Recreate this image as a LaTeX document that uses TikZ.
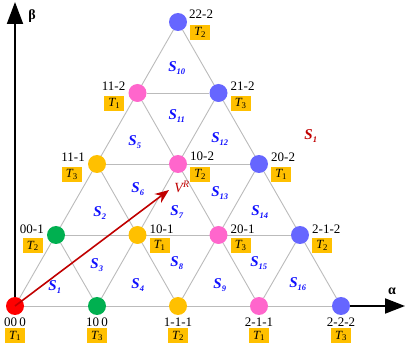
\documentclass[tikz,border=0pt]{standalone}
\usepackage{fontspec}
\setmainfont{Liberation Serif}
\usetikzlibrary{arrows.meta,backgrounds,calc}
\definecolor{cred}{HTML}{FF0000}
\definecolor{cgreen}{HTML}{00B050}
\definecolor{corange}{HTML}{FFC000}
\definecolor{cpink}{HTML}{FF66CC}
\definecolor{cblue}{HTML}{6666FF}
\definecolor{tbg}{HTML}{FFC000}
\definecolor{gridc}{HTML}{BBBBBB}
\definecolor{sblue}{HTML}{1010FF}
\definecolor{vred}{HTML}{C00000}
\tikzset{
  vtx/.style={circle, minimum size=18pt, inner sep=0pt, draw=none},
  lab/.style={font=\fontsize{13}{13}\selectfont, inner sep=0pt},
  tbox/.style={fill=tbg, minimum width=20pt, minimum height=15pt, inner sep=0pt, font=\fontsize{12.5}{12.5}\selectfont},
  gridline/.style={draw=gridc, line width=0.9pt},
  slab/.style={text=sblue, font=\fontsize{15}{15}\selectfont\bfseries\itshape, inner sep=0pt},
  axisline/.style={draw=black, line width=2pt}
}
\newcommand{\Tl}[1]{{\itshape T}\textsubscript{#1}}
\newcommand{\Sl}[1]{S\textsubscript{\fontsize{8.5}{8.5}\selectfont #1}}
\begin{document}
\begin{tikzpicture}[x=1pt,y=-1pt]
\useasboundingbox (0,0) rectangle (405,350);
% vertices
\node[vtx,fill=cred]    (a0) at (15,306) {};
\node[vtx,fill=cgreen]  (a1) at (97,306) {};
\node[vtx,fill=corange] (a2) at (178,306) {};
\node[vtx,fill=cpink]   (a3) at (259,306) {};
\node[vtx,fill=cblue]   (a4) at (341,306) {};
\node[vtx,fill=cgreen]  (b0) at (56,235) {};
\node[vtx,fill=corange] (b1) at (137.5,235) {};
\node[vtx,fill=cpink]   (b2) at (218.5,235) {};
\node[vtx,fill=cblue]   (b3) at (300,235) {};
\node[vtx,fill=corange] (c0) at (97,164) {};
\node[vtx,fill=cpink]   (c1) at (178,164) {};
\node[vtx,fill=cblue]   (c2) at (259,164) {};
\node[vtx,fill=cpink]   (d0) at (137.5,93) {};
\node[vtx,fill=cblue]   (d1) at (218.5,93) {};
\node[vtx,fill=cblue]   (e0) at (178,22) {};
% lattice
\begin{scope}[on background layer]
\draw[gridline] (a0) -- (a4);
\draw[gridline] (b0) -- (b3);
\draw[gridline] (c0) -- (c2);
\draw[gridline] (d0) -- (d1);
\draw[gridline] (a0) -- (e0);
\draw[gridline] (a1) -- (d1);
\draw[gridline] (a2) -- (c2);
\draw[gridline] (a3) -- (b3);
\draw[gridline] (a4) -- (e0);
\draw[gridline] (a3) -- (d0);
\draw[gridline] (a2) -- (c0);
\draw[gridline] (a1) -- (b0);
\end{scope}
% axes
\coordinate (betatip) at (15,2);
\coordinate (alphatip) at (405,306);
\draw[axisline,-{Triangle[width=16pt,length=22pt]}] (a0) -- (betatip);
\draw[axisline,-{Triangle[width=15pt,length=20pt]}] (a4) -- (alphatip);
\node[lab,font=\fontsize{14}{14}\selectfont\bfseries] (beta) at (32,16) {β};
\node[lab,font=\fontsize{14}{14}\selectfont\bfseries] (alpha) at (392,291) {α};
% reference vector
\coordinate (vtip) at (169,190);
\draw[vred, line width=1.6pt, -{Stealth[length=14pt,width=11pt]}] (a0.center) -- (vtip);
\node[text=vred, font=\fontsize{14}{14}\selectfont\itshape, inner sep=0pt] (vr) at (182,187) {V\textsuperscript{R}};
% bottom labels
\node[lab] (ta0) at ($(a0)+(0,16)$) {00\,0};
\node[tbox] (xa0) at ($(a0)+(0,30)$) {\Tl{1}};
\node[lab] (ta1) at ($(a1)+(0,16)$) {10\,0};
\node[tbox] (xa1) at ($(a1)+(0,30)$) {\Tl{3}};
\node[lab] (ta2) at ($(a2)+(0,16)$) {1-1-1};
\node[tbox] (xa2) at ($(a2)+(0,30)$) {\Tl{2}};
\node[lab] (ta3) at ($(a3)+(0,16)$) {2-1-1};
\node[tbox] (xa3) at ($(a3)+(0,30)$) {\Tl{1}};
\node[lab] (ta4) at ($(a4)+(0,16)$) {2-2-2};
\node[tbox] (xa4) at ($(a4)+(0,30)$) {\Tl{3}};
% right labels
\node[lab,anchor=west] (te0) at ($(e0)+(11,-8)$) {22-2};
\node[tbox,anchor=west] (xe0) at ($(e0)+(12,10.5)$) {\Tl{2}};
\node[lab,anchor=west] (td1) at ($(d1)+(12,-7)$) {21-2};
\node[tbox,anchor=west] (xd1) at ($(d1)+(12,10.5)$) {\Tl{3}};
\node[lab,anchor=west] (tc1) at ($(c1)+(12,-8)$) {10-2};
\node[tbox,anchor=west] (xc1) at ($(c1)+(12,10.5)$) {\Tl{2}};
\node[lab,anchor=west] (tc2) at ($(c2)+(12,-7)$) {20-2};
\node[tbox,anchor=west] (xc2) at ($(c2)+(12,10.5)$) {\Tl{1}};
\node[lab,anchor=west] (tb1) at ($(b1)+(12,-6)$) {10-1};
\node[tbox,anchor=west] (xb1) at ($(b1)+(12,10.5)$) {\Tl{1}};
\node[lab,anchor=west] (tb2) at ($(b2)+(12,-6)$) {20-1};
\node[tbox,anchor=west] (xb2) at ($(b2)+(12,10.5)$) {\Tl{3}};
\node[lab,anchor=west] (tb3) at ($(b3)+(12,-6)$) {2-1-2};
\node[tbox,anchor=west] (xb3) at ($(b3)+(12,10.5)$) {\Tl{2}};
% left labels
\node[lab,anchor=east] (tb0) at ($(b0)+(-12,-6)$) {00-1};
\node[tbox,anchor=east] (xb0) at ($(b0)+(-13,11)$) {\Tl{2}};
\node[lab,anchor=east] (tc0) at ($(c0)+(-12,-7)$) {11-1};
\node[tbox,anchor=east] (xc0) at ($(c0)+(-15,10.5)$) {\Tl{3}};
\node[lab,anchor=east] (td0) at ($(d0)+(-12,-7)$) {11-2};
\node[tbox,anchor=east] (xd0) at ($(d0)+(-13,10.5)$) {\Tl{1}};
% sector labels
\node[slab] (s1) at (55,287) {\Sl{1}};
\node[slab] (s2) at (100,213) {\Sl{2}};
\node[slab] (s3) at (97,265) {\Sl{3}};
\node[slab] (s4) at (138,285) {\Sl{4}};
\node[slab] (s5) at (135,142) {\Sl{5}};
\node[slab] (s6) at (138,189) {\Sl{6}};
\node[slab] (s7) at (177,212) {\Sl{7}};
\node[slab] (s8) at (177,263) {\Sl{8}};
\node[slab] (s9) at (220,285) {\Sl{9}};
\node[slab] (s10) at (177,68) {\Sl{10}};
\node[slab] (s11) at (177,116) {\Sl{11}};
\node[slab] (s12) at (220,139) {\Sl{12}};
\node[slab] (s13) at (220,193) {\Sl{13}};
\node[slab] (s14) at (260,212) {\Sl{14}};
\node[slab] (s15) at (259,263) {\Sl{15}};
\node[slab] (s16) at (298,284) {\Sl{16}};
\node[slab,text=vred] (sr1) at (311,136) {\Sl{1}};
\end{tikzpicture}
\end{document}
